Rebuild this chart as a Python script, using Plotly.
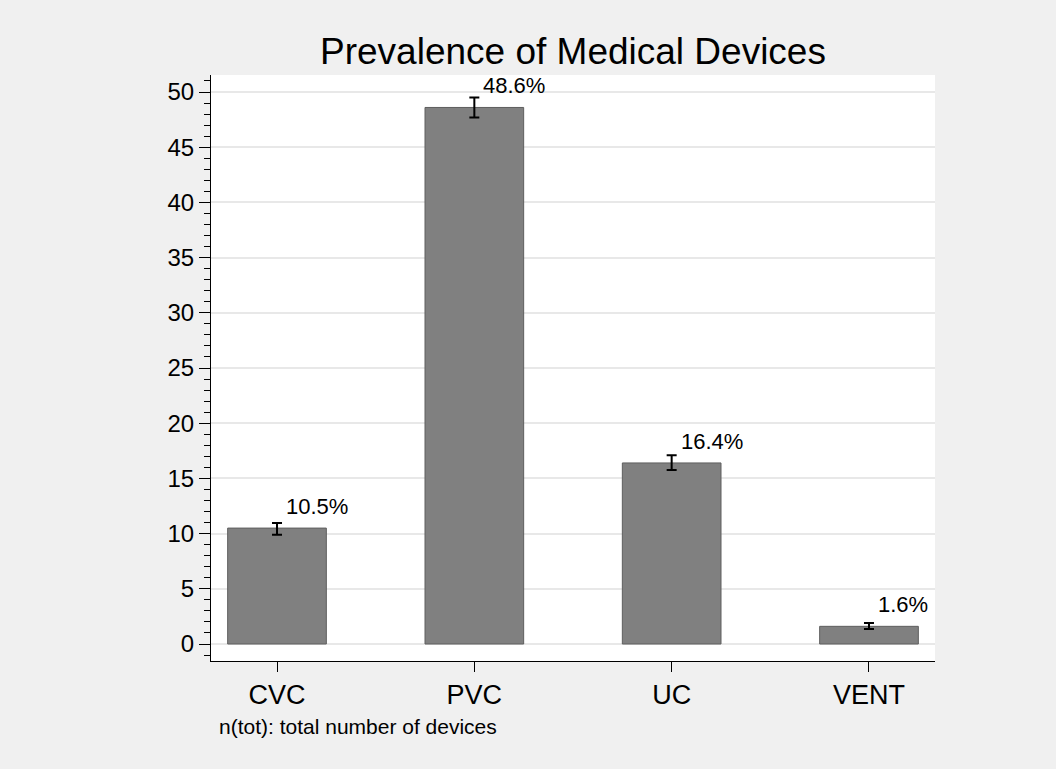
"""
Bar chart of device prevalence with confidence intervals (Stata-like look).
"""
import plotly.graph_objects as go

# data
devices = ["CVC", "PVC", "UC", "VENT"]
prevalence = [10.5, 48.6, 16.4, 1.6]
ci_upper = [10.95, 49.5, 17.1, 1.9]
ci_lower = [9.9, 47.7, 15.75, 1.35]
labels = ["10.5%", "48.6%", "16.4%", "1.6%"]
y_ticks = list(range(0, 51, 5))

FONT = "Liberation Sans, Arial, Helvetica, sans-serif"

positions = list(range(len(devices)))
err_plus = [u - v for u, v in zip(ci_upper, prevalence)]
err_minus = [v - l for v, l in zip(prevalence, ci_lower)]

fig = go.Figure()

# bars with CI whiskers
fig.add_trace(go.Bar(
    x=positions,
    y=prevalence,
    width=0.5,
    marker=dict(color="#808080", line=dict(color="#5e5e5e", width=1)),
    error_y=dict(type="data", symmetric=False, array=err_plus, arrayminus=err_minus,
                 color="black", thickness=2, width=5),
    showlegend=False,
    hoverinfo="skip",
))

# percentage labels just above the bars, a bit right of centre
for pos, val, txt in zip(positions, prevalence, labels):
    fig.add_annotation(x=pos, y=val, text=txt, showarrow=False,
                       xanchor="left", yanchor="bottom", xshift=7, yshift=7,
                       font=dict(family=FONT, size=22, color="black"))

# footnote under the axis
fig.add_annotation(x=0.008, y=-0.1126, xref="paper", yref="paper",
                   text="n(tot): total number of devices", showarrow=False,
                   xanchor="left", yanchor="middle",
                   font=dict(family=FONT, size=21, color="black"))

fig.update_layout(
    width=1056,
    height=769,
    margin=dict(l=211, r=121, t=75, b=108),
    paper_bgcolor="#f0f0f0",
    plot_bgcolor="white",
    font=dict(family=FONT, color="black"),
    title=dict(text="Prevalence of Medical Devices", x=0.5, xref="paper",
               y=1 - 51 / 769, yanchor="middle",
               font=dict(family=FONT, size=37, color="black")),
    bargap=0.5,
)

fig.update_xaxes(
    range=[-0.3345, 3.3345],
    tickmode="array",
    tickvals=positions,
    ticktext=devices,
    ticks="outside",
    ticklen=10,
    tickwidth=1,
    tickcolor="black",
    showline=True,
    linecolor="black",
    linewidth=1,
    showgrid=False,
    zeroline=False,
    tickfont=dict(family=FONT, size=27, color="black"),
)

fig.update_yaxes(
    range=[-1.54, 51.54],
    tickmode="array",
    tickvals=y_ticks,
    ticks="outside",
    ticklen=11,
    tickwidth=1,
    tickcolor="black",
    showline=True,
    linecolor="black",
    linewidth=1,
    showgrid=True,
    gridcolor="#e8e8e8",
    gridwidth=2,
    zeroline=False,
    minor=dict(dtick=1, tick0=0, ticks="outside", ticklen=6, tickcolor="black",
               tickwidth=1, showgrid=False),
    tickfont=dict(family=FONT, size=24, color="black"),
)

# drop the default page margin so the figure sits at the window corner
fig.write_html("out.html", config={"displayModeBar": False},
               post_script="document.body.style.margin='0';")
